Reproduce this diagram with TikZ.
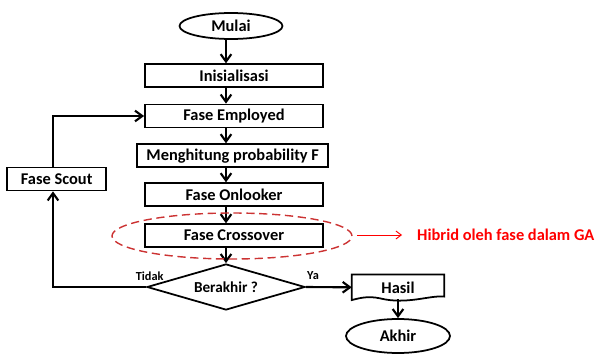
\documentclass[tikz,border=0pt]{standalone}
\usepackage{fontspec}
\setmainfont{Carlito}
\usetikzlibrary{shapes.geometric, arrows.meta}

\tikzset{
  box/.style={draw, line width=1.5pt, rectangle, minimum width=5.34cm, minimum height=0.69cm, inner sep=0pt, font=\fontsize{14}{16}\selectfont\bfseries},
  term/.style={draw, line width=1.5pt, ellipse, inner sep=0pt, font=\fontsize{14}{16}\selectfont\bfseries},
  arr/.style={line width=1.8pt, -{Straight Barb[length=2.2mm, width=3.2mm]}},
  lbl/.style={font=\fontsize{10.5}{12}\selectfont\bfseries, inner sep=0pt}
}

\begin{document}
\begin{tikzpicture}
\useasboundingbox (0, 0) rectangle (18.03, -10.68);

\node[term, minimum width=3.09cm, minimum height=0.78cm] (mulai) at (6.93, -0.78) {Mulai};
\node[box] (init) at (7.02, -2.27) {Inisialisasi};
\node[box] (emp) at (7.02, -3.48) {Fase Employed};
\node[box, minimum width=5.73cm] (prob) at (6.98, -4.67) {Menghitung probability F};
\node[box] (onl) at (7.02, -5.84) {Fase Onlooker};
\node[box] (cross) at (7.02, -7.07) {Fase Crossover};
\node[draw, line width=1.5pt, diamond, aspect=3.4, minimum width=4.74cm, minimum height=1.38cm, inner sep=0pt, font=\fontsize{13}{15}\selectfont\bfseries] (dec) at (6.78, -8.61) {Berakhir ?};
\node[box, minimum width=2.97cm] (scout) at (1.7, -5.37) {Fase Scout};
\node[font=\fontsize{14}{16}\selectfont\bfseries, minimum width=2.76cm, minimum height=0.75cm, inner sep=0pt] (hasil) at (11.94, -8.62) {Hasil};
\node[term, minimum width=3.12cm, minimum height=1.02cm] (akhir) at (11.94, -10.08) {Akhir};

% document shape round Hasil
\draw[line width=1.5pt] (hasil.north west) -- (hasil.north east) -- ++(0, -0.66)
  .. controls (12.9, -8.85) and (12.2, -9.15) .. (11.4, -8.95)
  .. controls (11.0, -8.86) and (10.7, -8.97) .. (hasil.south west) -- cycle;

\coordinate (lft) at (1.59, 0);

\draw[arr] (mulai.south -| dec) -- (init.north -| dec);
\draw[arr] (init.south -| dec) -- (emp.north -| dec);
\draw[arr] (emp.south -| dec) -- (prob.north -| dec);
\draw[arr] (prob.south -| dec) -- (onl.north -| dec);
\draw[arr] (onl.south -| dec) -- (cross.north -| dec);
\draw[arr] (cross.south -| dec) -- (dec.north);
\draw[arr] (dec.west) -- (dec.west -| lft) -- (scout.south -| lft);
\draw[arr] (scout.north -| lft) -- (lft |- emp.west) -- (emp.west);
\draw[arr] (dec.east) -- (hasil.west);
\draw[arr] (11.94, -8.97) -- (akhir.north);

\node[lbl] (tidak) at (4.49, -8.28) {Tidak};
\node[lbl] (ya) at (9.39, -8.28) {Ya};

% GA part
\draw[red!75!black!80, line width=1.2pt, dash pattern=on 7pt off 4pt] (6.96, -7.08) ellipse (3.6cm and 0.69cm);
\coordinate (ga) at (10.71, -7.05);
\node[red, anchor=west, inner sep=0pt, font=\fontsize{14}{16}\selectfont\bfseries] (hib) at (12.51, -7.05) {Hibrid oleh fase dalam GA};
\draw[red, line width=0.8pt, -{Straight Barb[length=1.6mm, width=2.4mm]}] (ga) -- (12.06, -7.05);
\end{tikzpicture}
\end{document}
